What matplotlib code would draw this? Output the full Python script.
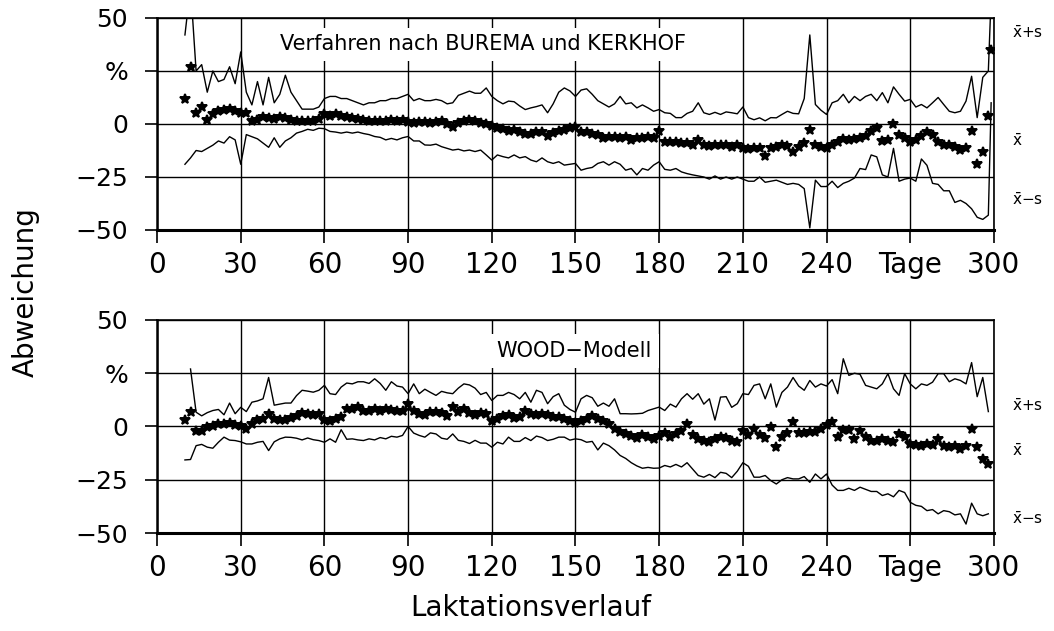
import numpy as np
import matplotlib
matplotlib.use("Agg")
import matplotlib.pyplot as plt

# Lactation day of each plotted value (every second day)
days = list(range(10, 299, 2))
days_bk = days + [299]

# Deviation (%) - method after BUREMA and KERKHOF
bk_upper = [
    42, 65, 25, 28, 15, 25, 20, 21, 27, 19,
    34, 15, 9, 20, 9, 22, 10, 14, 23, 15,
    11, 7, 7, 7, 8, 12, 13, 13, 12, 12,
    11, 10, 9, 10, 10, 11, 11, 12, 12, 13,
    14, 11, 12, 11, 11,
    11.6, 11, 9.5, 10, 13.5, 14.5, 15.5, 14.5, 14.5, 17,
    13, 11, 9.5, 10.8, 10.5, 8.5, 6.8, 7.6, 8.2, 9,
    5.3, 9.5, 15, 17, 15.6, 13, 16, 16.6, 14, 11,
    9.5, 8, 9.5, 13, 9.5, 10, 7.6, 9, 7.6, 6,
    6.8, 5.3, 5, 3, 3, 5, 6, 10, 5.3, 4.5,
    5.5, 4.5, 5.7, 5.3, 4.8, 8, 3, 2, 2.9, 1.5,
    3, 2.9, 4.5, 6, 5, 4.8, 12, 42, 9.2, 6.5,
    4.5, 10, 11, 14, 10, 13, 11, 13, 14, 11,
    14.8, 10, 17.5, 14, 10.8, 11.6, 8, 9.2, 7.6, 10,
    12.5, 9.2, 6, 5.3, 6, 10.8, 22.5, 3, 22, 25,
    60,
]
bk_mean = [
    12, 27, 5, 8, 2, 4.5, 6, 6.5, 7, 6,
    5, 5, 1.6, 2, 3.5, 3, 2.5, 3.5, 3, 2,
    1.3, 1.5, 1.5, 1.5, 2.5, 4.5, 4, 4.5, 4, 3.5,
    3, 2.5, 2, 1.5, 1.2, 1.3, 1.2, 2, 1.5, 2,
    1, 0.5, 0.8, 1, 0.5,
    0.8, 1.3, 0, -1.5, 0.5, 1.3, 1.8, 1.2, 0.5, 0,
    -0.8, -1.9, -2.3, -3.2, -2.8, -4, -4.5, -4.5, -3.8, -4,
    -5.5, -4.3, -3.5, -2.7, -1.9, -1.2, -4, -4, -4.5, -5.2,
    -6.5, -6, -5.9, -6.5, -6, -7.5, -6.7, -6.7, -6, -6.7,
    -3.5, -8.3, -8.3, -8.3, -9, -9, -9.9, -7.5, -9.9, -10.5,
    -10, -10, -10, -10.7, -10, -11.5, -12, -11.5, -11.5, -15,
    -11.5, -10.7, -10, -10.5, -13, -11, -9, -3, -9.9, -10.7,
    -11.5, -10, -8.3, -7, -7.5, -7, -6.4, -5.5, -3.5, -1.9,
    -8, -7.5, 0, -5, -6.7, -8.3, -7.5, -5.5, -4, -5,
    -8.3, -10, -10, -11, -12.5, -11.5, -3.5, -19, -13, 3.7,
    35,
]
bk_lower = [
    -19, -16, -12.5, -13, -11.5, -10, -8, -9, -6, -7.5,
    -19, -5, -6, -7, -9, -11, -6.5, -11, -8, -6.5,
    -4.3, -3.5, -2.5, -3, -2, -2.2, -3.5, -3.8, -4.3, -3.8,
    -4.3, -3.8, -4.5, -5, -5.9, -6.3, -7.5, -6.8, -7.5, -6.5,
    -5.9, -8, -8, -9.9, -10,
    -9.5, -10.7, -11.5, -12.3, -11.9, -12.7, -12.3, -13, -12.3, -14.6,
    -17, -14.6, -15.4, -16, -14.6, -16, -15.4, -17, -17.8, -16,
    -17.8, -18.6, -17.8, -19.4, -19, -18.6, -21.8, -21, -20.5, -18.6,
    -17.8, -19.4, -17.8, -19, -21.8, -21, -24, -21, -21.8, -19.4,
    -17.8, -21.4, -21.8, -21, -22.6, -23.4, -24, -24.5, -25, -26,
    -24.5, -26, -25, -26, -25, -26, -27, -27, -25, -27.5,
    -27, -26.5, -27.5, -28.5, -28, -28.5, -30.5, -49, -26.5, -29.5,
    -29.5, -27, -30, -28, -27, -25.5, -21, -21.5, -14.6, -15.5,
    -24, -25, -11.5, -27, -26, -25.5, -27, -16.5, -19.5, -28,
    -28.5, -31.5, -31.5, -37, -36, -37.5, -40, -44, -45, -43,
    10,
]

# Deviation (%) - WOOD model
wood_upper = [
    np.nan, 27, 6.7, 5, 6.5, 7.5, 8, 5.5, 11, 6,
    9, 7, 11.4, 12, 13, 23, 10, 10.5, 11, 11,
    14.5, 17, 16.6, 16.1, 17, 19.3, 15.4, 15, 18.5, 20.4,
    20, 21, 21, 20.2, 22.4, 20.2, 17, 21, 19, 18.5,
    15.4, 20, 15.4, 17.5, 16,
    14.6, 16.5, 15.8, 15.4, 18, 20, 19.5, 18, 15, 16,
    12.2, 14.6, 14.6, 16, 15, 13, 16, 11.4, 17, 16,
    10.7, 14, 15.4, 10, 8, 6.7, 13, 14.6, 13.5, 9.5,
    11, 9.5, 13, 6, 6, 5.9, 6, 6.2, 7.5, 8.3,
    9.1, 7.5, 10.5, 9.1, 13, 15.4, 12.8, 15.4, 10.5, 13,
    3, 13.8, 14, 9, 10.7, 15.4, 15, 19.3, 20, 13,
    20, 9.1, 16, 18.5, 23, 19, 17, 21.6, 18.5, 20,
    19, 22, 15.4, 31.8, 24, 25, 24.5, 19.3, 18.5, 17.7,
    20, 24.8, 17.7, 14.6, 24.8, 20, 17.7, 20, 19.3, 20.8,
    24.8, 24.8, 21, 22.4, 21.6, 20, 30, 14, 23, 7,
]
wood_mean = [
    3, 7, -2, -2, -0.3, 0, 1.4, 1.3, 1.8, 0.7,
    0, -1, 1, 3.1, 3.3, 6, 3.6, 3.1, 3.1, 4.2,
    5, 6.3, 6, 5.5, 6, 3.1, 2.8, 3.4, 4.4, 8.3,
    8.3, 9, 7.5, 7.2, 8.3, 7.5, 8, 7.8, 7.5, 7.5,
    10.7, 7.5, 6, 5.2, 7,
    7, 6.2, 5, 9, 7, 8, 6.5, 5.5, 6.3, 6,
    2.8, 3.6, 5, 5.5, 4, 4.4, 7.5, 6, 5.5, 6,
    5.2, 4.4, 4.4, 3.6, 2.5, 1.5, 2.8, 3.6, 5, 3.6,
    2.4, 1.3, -1, -2.5, -3.4, -4.6, -5.2, -4.2, -5, -5.8,
    -4.6, -3, -5, -3.4, -1.9, 1.3, -4, -5.8, -6.6, -7.4,
    -5.8, -5, -5.5, -7, -7.4, -1.9, -4, -1.1, -4, -5.5,
    -0.3, -9.7, -5, -3, 2, -3, -3, -2.7, -2.7, -1.1,
    0.5, 2, -5, -1.5, -1.5, -5.8, -1.9, -5, -6.6, -6.6,
    -5.8, -6.6, -7.4, -3.4, -5, -8.2, -8.6, -9, -8.2, -8.6,
    -5.8, -9, -9.5, -9, -10.5, -9, -1.1, -9.7, -15.2, -17.6,
]
wood_lower = [
    -15.7, -15.5, -9, -8.4, -9.7, -10.2, -7.4, -5, -6.4, -6.6,
    -7.2, -8.2, -8.2, -7.4, -7, -11.3, -7.2, -5.8, -5, -5.1,
    -5.5, -6.3, -5.4, -6.2, -6.6, -7.4, -5.8, -7.4, -1.5, -6,
    -5.8, -6.3, -6.6, -5.8, -6.3, -5.2, -5.8, -4.6, -5, -4.2,
    0, -3.1, -4.2, -5, -3,
    -3.5, -5.5, -6, -3.5, -6.5, -7, -8, -6.5, -7.8, -7.8,
    -9.7, -7.4, -8.2, -5, -7, -7, -5.2, -6.6, -4.5, -5.2,
    -6.6, -6, -5, -5, -6.4, -5.8, -6.2, -7.4, -7, -11,
    -7.8, -9, -11, -13.6, -15, -17, -18.5, -19.6, -19.2, -19.6,
    -19.5, -18.3, -19, -17.8, -19, -17, -20, -23, -23.8, -22.5,
    -24, -21.5, -22, -24, -21, -17, -18.7, -23.8, -23.8, -23,
    -25.4, -27, -25, -24, -24.6, -24.6, -23.5, -26.2, -22.3, -24.6,
    -22.3, -27.5, -30, -30, -29, -30, -28.5, -29.5, -30.5, -30.5,
    -32.4, -31.6, -33, -30, -31, -35.6, -37, -37.5, -39.5, -39,
    -41, -39.5, -40, -41.5, -41, -45.8, -36, -41, -41.9, -41,
]

x_ticks = [0, 30, 60, 90, 120, 150, 180, 210, 240, 270, 300]
x_labels = ["0", "30", "60", "90", "120", "150", "180", "210", "240", "Tage", "300"]
y_ticks = [-50, -25, 0, 25, 50]
y_labels = ["\u221250", "\u221225", "0", "%", "50"]

titles = ["Verfahren nach BUREMA und KERKHOF", "WOOD\u2212Modell"]
side_labels = ["$\\bar{\\mathrm{x}}$+s", "$\\bar{\\mathrm{x}}$", "$\\bar{\\mathrm{x}}$\u2212s"]

plt.rcParams["font.family"] = ["DejaVu Sans"]
plt.rcParams["mathtext.fontset"] = "dejavusans"

fig = plt.figure(figsize=(10.54, 6.31), dpi=100)
ax_top = fig.add_axes([0.149, 0.6355, 0.794, 0.336])
ax_bot = fig.add_axes([0.149, 0.1553, 0.794, 0.3376])


def draw_panel(ax, x, upper, mean, lower, title, title_pos, side_y):
    ax.plot(x, upper, color="black", lw=1.0, zorder=2)
    ax.plot(x, lower, color="black", lw=1.0, zorder=2)
    ax.plot(x, mean, linestyle="none", marker="*", markersize=7.5,
            color="black", markeredgewidth=1.4, zorder=2)
    ax.set_xlim(0, 300)
    ax.set_ylim(-50, 50)
    ax.set_xticks(x_ticks)
    ax.set_xticklabels(x_labels, fontsize=20)
    ax.set_yticks(y_ticks)
    ax.set_yticklabels(y_labels, fontsize=18)
    ax.tick_params(axis="y", direction="out", length=9, width=1.2, pad=12)
    ax.tick_params(axis="x", direction="out", length=9, width=1.2, pad=6)
    ax.grid(True, color="black", lw=1.0)
    for side, lw in (("top", 1.2), ("right", 1.2), ("left", 1.8), ("bottom", 2.2)):
        ax.spines[side].set_linewidth(lw)
    ax.text(title_pos[0], title_pos[1], title, fontsize=15, ha="center",
            va="center", zorder=3,
            bbox=dict(facecolor="white", edgecolor="none", pad=5))
    trans = ax.get_yaxis_transform()
    for label, yv in zip(side_labels, side_y):
        ax.text(1.022, yv, label, transform=trans, fontsize=11,
                ha="left", va="center", clip_on=False)


draw_panel(ax_top, days_bk, bk_upper, bk_mean, bk_lower,
           titles[0], (117, 37.5), (43, -8, -36))
draw_panel(ax_bot, days, wood_upper, wood_mean, wood_lower,
           titles[1], (149.5, 35.5), (9.6, -11.5, -43.4))

fig.text(0.024, 0.537, "Abweichung", rotation=90, fontsize=20,
         ha="center", va="center")
fig.text(0.504, 0.036, "Laktationsverlauf", fontsize=20,
         ha="center", va="center")

fig.savefig("out.png", dpi=100, facecolor="white")
